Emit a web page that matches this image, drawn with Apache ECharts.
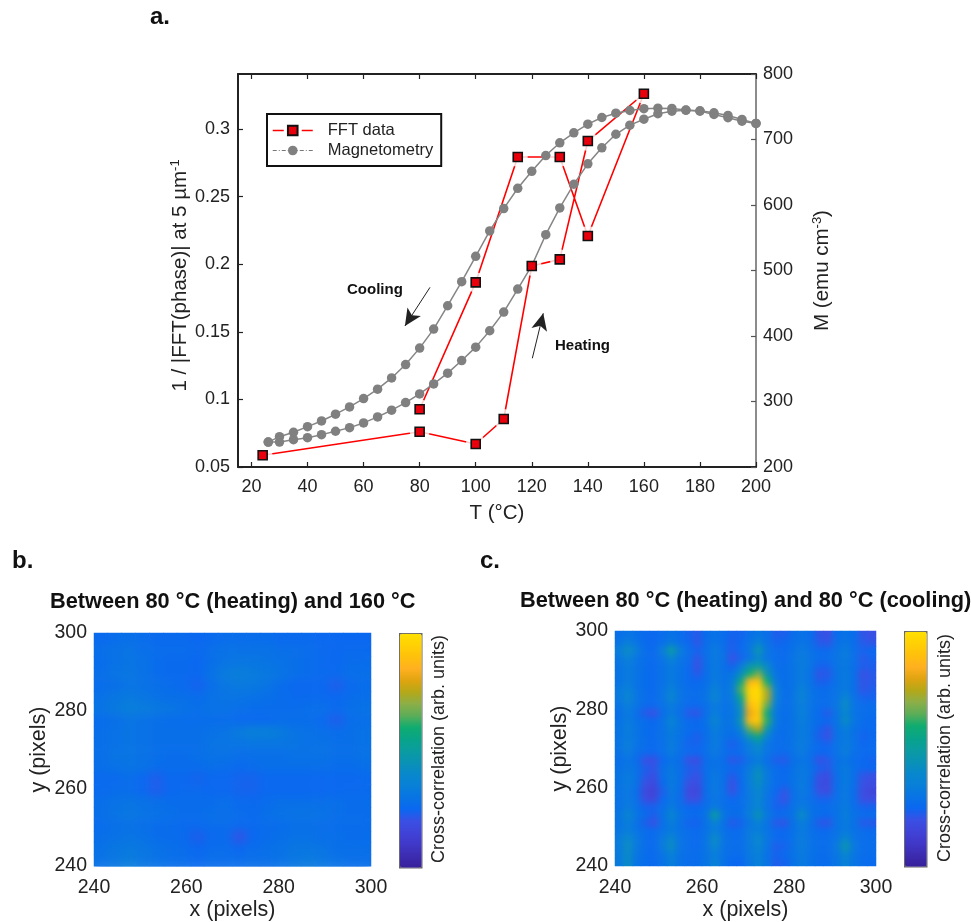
<!DOCTYPE html>
<html><head><meta charset="utf-8">
<style>
html,body{margin:0;padding:0;background:#fff}
#c{position:absolute;left:0;top:0;width:971px;height:922px}
.soft{position:absolute;pointer-events:none}
</style>
<script src="https://cdn.jsdelivr.net/npm/echarts@6/dist/echarts.min.js"></script>
</head><body>
<div id="c"></div>
<div class="soft" style="left:94px;top:633px;width:277px;height:234px;backdrop-filter:blur(4px);-webkit-backdrop-filter:blur(4px)"></div>
<div class="soft" style="left:615px;top:631px;width:261px;height:235px;backdrop-filter:blur(3px);-webkit-backdrop-filter:blur(3px)"></div>
<script>
// ---------- panel a ----------
const fftT = [24,80,100,110,120,130,140,160,140,130,115,100,80];
const fftV = [0.0587,0.0761,0.067,0.0855,0.1987,0.2036,0.2911,0.3261,0.2209,0.2793,0.2793,0.1866,0.0927];
const magT = [26,30,35,40,45,50,55,60,65,70,75,80,85,90,95,100,105,110,115,120,125,130,135,140,145,150,155,160,165,170,175,180,185,190,195,200];
const magHeating = [238,238,241.7,244.8,249.4,254.6,260.1,267.3,276.5,286.7,298.3,311.6,326.9,343.3,362.5,383,408,436.5,471.7,507.3,554.7,595.6,631.7,662.8,687.3,708,721.9,731,739.3,743.3,744.8,743.9,740.8,736.7,730.6,724.5];
const magCooling = [238,246.3,253,261.6,270.3,280.6,291.7,304.4,318.8,336,356.4,381.5,410.5,446.2,482.9,521.6,560.4,594.5,625.5,651.5,675.5,695,710.2,723.4,733.6,740.2,744.3,747,747.8,747.4,745,743.3,738.3,733.3,728,724.5];
const xTicksA = [20,40,60,80,100,120,140,160,180,200];
const yTicksA = [0.05,0.1,0.15,0.2,0.25,0.3];
// ---------- colour bar, bottom to top ----------
const barColors = ['#38209a','#3c2cb0','#4038c8','#4043d8','#3a50e4','#0a68f0','#0874e4','#0880d8','#0888cc','#0a92b4','#0a9ca0','#08a488','#10ac70','#5cad58','#8cae48','#b4a818','#e0a410','#ffb020','#ffc00c','#ffd004','#ffe000'];
// ---------- panel b, rows top to bottom ----------
const gridB = [
[26,27,28,27,26,26,26,25,26,27,27,27,27,26,26,26,25,25,25,25],
[28,29,30,28,27,27,27,26,28,29,29,29,29,28,28,27,26,25,26,26],
[27,29,30,29,27,26,26,25,28,30,31,31,30,29,28,27,26,25,27,27],
[28,30,31,29,27,26,26,25,29,33,34,33,32,30,28,27,26,26,28,28],
[27,28,30,29,28,27,26,24,28,31,32,32,30,27,25,25,25,23,26,27],
[29,31,32,31,29,28,28,27,29,30,30,29,28,27,26,26,26,25,27,28],
[30,32,34,33,32,31,29,28,29,29,28,27,27,27,27,28,28,26,28,29],
[27,28,30,29,28,27,27,27,27,27,26,26,26,27,27,27,26,23,27,28],
[28,29,30,29,28,28,28,28,29,30,33,35,35,33,30,29,28,27,28,29],
[28,29,30,29,28,28,28,28,30,30,30,31,31,31,30,29,29,28,28,29],
[28,30,30,29,28,27,27,28,29,29,28,28,28,28,29,29,29,28,28,29],
[28,29,30,29,27,27,27,27,28,27,26,27,28,28,28,28,28,27,27,28],
[26,26,27,25,23,25,25,24,25,25,24,24,25,25,25,25,25,25,25,26],
[26,27,27,25,23,25,26,26,25,25,24,24,25,25,25,25,25,25,26,26],
[28,29,30,29,28,27,27,27,27,28,26,26,27,28,28,28,28,28,27,27],
[28,30,31,30,29,28,27,27,28,28,27,26,28,29,30,30,29,28,27,27],
[27,28,29,28,27,27,26,26,27,27,26,26,27,27,28,28,28,27,27,27],
[28,29,30,29,27,27,26,23,26,26,21,25,27,28,29,29,28,28,27,27],
[29,31,32,31,29,28,27,25,27,27,25,27,28,29,31,31,30,28,28,28],
[29,31,33,31,29,28,27,26,27,27,27,28,28,29,31,32,31,29,28,28]];
// ---------- panel c, rows top to bottom ----------
const gridC = [
[28,30,28,26,25,27,29,27,24,22,27,29,27,24,24,28,31,28,23,23,27,29,27,21,20,27,29,27,21,20],
[30,34,30,26,25,28,32,28,25,21,27,30,27,23,25,30,36,29,24,25,28,30,28,22,21,28,31,27,22,21],
[34,42,34,27,26,34,50,34,27,24,28,33,28,23,26,31,47,31,27,26,29,32,29,26,26,29,33,28,24,25],
[31,36,30,27,26,30,38,30,27,21,28,32,29,20,24,30,39,30,27,26,30,33,30,27,27,30,33,28,22,24],
[30,33,30,27,26,29,33,29,26,20,28,32,28,24,33,46,50,40,28,27,30,33,30,24,24,30,32,28,23,23],
[30,33,30,27,26,29,33,29,26,22,28,33,29,30,42,60,68,46,30,27,30,33,29,21,22,29,33,28,20,22],
[30,33,30,27,26,29,33,29,26,25,28,33,29,33,56,86,90,60,32,27,30,33,29,23,24,29,33,28,21,22],
[32,36,30,27,26,30,36,30,27,27,29,36,30,34,64,96,98,72,36,27,30,36,30,27,27,30,33,28,21,23],
[32,38,31,27,26,30,39,30,27,27,30,38,30,33,55,94,98,74,36,27,30,37,30,27,27,30,38,29,24,24],
[30,34,30,26,26,29,33,29,26,26,28,33,29,31,46,88,95,66,33,27,30,34,30,27,27,31,42,30,27,27],
[28,33,28,22,20,27,33,28,22,21,28,34,29,30,42,82,92,58,31,27,30,35,30,26,22,30,39,30,27,27],
[29,33,29,27,25,29,38,30,26,25,29,39,30,31,46,88,93,62,32,27,30,34,30,27,25,30,42,31,27,26],
[30,34,30,27,26,29,34,30,27,26,28,34,30,29,38,66,76,48,30,27,30,33,30,24,21,29,34,29,26,26],
[30,33,30,27,26,29,33,29,25,23,28,33,29,27,31,46,56,36,28,27,30,33,30,23,20,29,33,29,24,26],
[30,34,30,27,26,28,33,29,24,24,28,33,28,23,27,34,42,31,27,27,30,33,29,26,24,29,33,29,25,26],
[29,33,28,26,25,28,33,28,26,25,28,32,28,26,27,33,38,30,27,26,29,33,28,25,25,29,34,28,26,26],
[28,30,27,20,19,25,29,27,20,19,27,29,27,21,23,29,33,28,23,22,28,30,28,20,22,28,30,27,25,24],
[29,31,29,23,21,28,32,28,23,22,28,30,28,26,27,33,41,31,27,25,29,32,29,24,22,29,33,28,25,25],
[30,33,29,22,19,28,33,28,22,20,28,32,28,22,27,34,44,33,27,26,29,32,29,20,19,28,33,28,21,20],
[30,33,29,20,17,26,33,28,20,19,28,32,28,20,26,34,42,32,27,26,29,33,28,19,18,28,33,28,20,19],
[29,32,27,17,14,23,32,27,17,16,27,32,28,20,26,33,39,31,25,21,28,32,28,20,18,28,32,27,18,16],
[29,32,28,19,16,25,31,27,19,19,27,31,28,25,27,32,39,30,24,20,28,31,28,24,24,28,32,27,19,19],
[29,33,29,24,24,28,33,28,25,25,28,32,28,27,27,33,38,30,24,24,29,33,29,27,27,29,33,28,24,24],
[31,39,31,27,23,29,39,30,27,26,30,51,31,27,28,34,45,32,27,27,30,42,30,27,26,29,34,29,27,27],
[30,34,29,23,20,28,34,29,24,24,29,36,29,22,24,31,36,30,22,21,29,34,29,22,21,29,33,29,22,22],
[31,34,30,27,26,29,33,29,27,26,29,34,29,26,27,33,34,30,26,25,29,33,29,26,26,29,33,29,27,26],
[33,40,32,27,26,32,39,30,27,26,30,42,30,27,27,33,40,31,26,25,29,33,29,27,27,30,39,30,27,27],
[33,42,32,27,26,33,42,30,27,26,30,40,29,27,27,32,38,30,23,24,29,33,29,27,27,32,47,32,27,27],
[33,41,31,27,26,30,36,29,27,27,30,34,29,27,27,32,36,29,24,26,29,33,29,27,27,31,39,31,27,27],
[33,41,30,27,26,29,34,29,27,27,30,36,29,25,25,31,35,30,23,24,29,32,29,27,27,30,36,30,27,26]];

const FONT = '"Liberation Sans", Arial, sans-serif';
const INK = '#222';
const zip = (a,b) => a.map((v,i) => [v,b[i]]);
const cells = g => { const out=[]; const n=g.length;
  g.forEach((row,i)=>row.forEach((v,j)=>out.push([j,n-1-i,v]))); return out; };
const cats = n => Array.from({length:n},(_,i)=>String(i));
const tickLabel = {fontFamily:FONT,fontSize:18,color:INK};
const nameStyle = {fontFamily:FONT,fontSize:20.5,color:INK};

function heatAxes(gridIndex,g){
  const hName = {fontFamily:FONT,fontSize:21.5,color:INK};
  return {
    cx:{type:'category',gridIndex,data:cats(g[0].length),show:false},
    cy:{type:'category',gridIndex,data:cats(g.length),show:false},
    vx:{type:'value',gridIndex,min:240,max:300,interval:20,position:'bottom',
        axisLine:{show:false},axisTick:{show:false},splitLine:{show:false},
        axisLabel:Object.assign({margin:12},tickLabel,{fontSize:19.5}),
        name:'x (pixels)',nameLocation:'middle',nameGap:31,nameTextStyle:hName},
    vy:{type:'value',gridIndex,min:240,max:300,interval:20,position:'left',
        axisLine:{show:false},axisTick:{show:false},splitLine:{show:false},
        axisLabel:Object.assign({margin:7},tickLabel,{fontSize:19.5}),
        name:'y (pixels)',nameLocation:'middle',nameGap:44,nameTextStyle:hName}
  };
}
const hb = heatAxes(1,gridB), hc = heatAxes(2,gridC);

const axisDark = {show:true,lineStyle:{color:'#222',width:2}};
const supRich = {s:{fontFamily:FONT,fontSize:13,color:INK,padding:[0,0,10,0]}};
const option = {
  animation:false,
  backgroundColor:'#fff',
  textStyle:{fontFamily:FONT},
  grid:[
    {left:238,top:74,width:518,height:393},
    {left:94,top:633,width:277,height:234},
    {left:615,top:631,width:261,height:235}
  ],
  xAxis:[
    {type:'value',gridIndex:0,min:15.2,max:200,position:'bottom',
     axisLine:axisDark,splitLine:{show:false},
     axisTick:{inside:true,length:5,customValues:xTicksA,lineStyle:{color:'#222',width:1.2}},
     axisLabel:Object.assign({margin:11,customValues:xTicksA},tickLabel),
     name:'T (°C)',nameLocation:'middle',nameGap:36,nameTextStyle:nameStyle},
    {type:'value',gridIndex:0,min:15.2,max:200,position:'top',
     axisLine:axisDark,splitLine:{show:false},
     axisTick:{inside:true,length:5,customValues:xTicksA,lineStyle:{color:'#222',width:1.2}},
     axisLabel:{show:false}},
    hb.cx,hb.vx,hc.cx,hc.vx
  ],
  yAxis:[
    {type:'value',gridIndex:0,min:0.05,max:0.3407,position:'left',
     axisLine:axisDark,splitLine:{show:false},
     axisTick:{inside:true,length:5,customValues:yTicksA,lineStyle:{color:'#222',width:1.2}},
     axisLabel:Object.assign({margin:8,customValues:yTicksA},tickLabel),
     name:'1 / |FFT(phase)| at 5 µm{s|-1}',nameLocation:'middle',nameGap:46,nameMoveOverlap:false,
     nameTextStyle:Object.assign({},nameStyle,{rich:supRich,padding:[0,10,0,0]})},
    {type:'value',gridIndex:0,min:200,max:800,interval:100,position:'right',
     axisLine:{show:true,lineStyle:{color:'#666',width:1.5}},splitLine:{show:false},
     axisTick:{inside:true,length:5,lineStyle:{color:'#555',width:1.2}},
     axisLabel:Object.assign({margin:7},tickLabel),
     name:'M (emu cm{s|-3})',nameLocation:'middle',nameGap:55,nameRotate:90,nameMoveOverlap:false,
     nameTextStyle:Object.assign({},nameStyle,{rich:supRich})},
    hb.cy,hb.vy,hc.cy,hc.vy
  ],
  legend:{
    left:267,top:114,width:174,orient:'vertical',
    padding:[8,8,7,5],itemGap:3,itemWidth:40,itemHeight:12,
    borderColor:'#111',borderWidth:2,backgroundColor:'#fff',
    selectedMode:false,
    textStyle:{fontFamily:FONT,fontSize:16.5,color:INK,padding:[0,0,0,10]},
    data:[
      {name:'FFT data',lineStyle:{color:'#f00',width:1.5,opacity:1,type:[11,18,11]}},
      {name:'Magnetometry',lineStyle:{color:'#777',width:1,type:[4,2,1,2]}}
    ]
  },
  visualMap:[
    {type:'continuous',seriesIndex:5,min:0,max:100,show:true,calculable:false,realtime:false,
     left:399,top:633,itemWidth:22,itemHeight:234,padding:0,text:null,showLabel:false,
     borderColor:'#666',borderWidth:1.5,inRange:{color:barColors},textStyle:{fontSize:0}},
    {type:'continuous',seriesIndex:6,min:0,max:100,show:true,calculable:false,realtime:false,
     left:904,top:631,itemWidth:22,itemHeight:235,padding:0,text:null,showLabel:false,
     borderColor:'#666',borderWidth:1.5,inRange:{color:barColors},textStyle:{fontSize:0}}
  ],
  title:[
    {text:'Between 80 °C (heating) and 160 °C',left:50,top:591,padding:0,
     textStyle:{fontFamily:FONT,fontSize:21.75,fontWeight:'bold',color:'#111'}},
    {text:'Between 80 °C (heating) and 80 °C (cooling)',left:520,top:590,padding:0,
     textStyle:{fontFamily:FONT,fontSize:21.75,fontWeight:'bold',color:'#111'}}
  ],
  graphic:[
    {type:'text',left:150,top:5,style:{text:'a.',fontFamily:FONT,fontSize:24,fontWeight:'bold',fill:'#111'}},
    {type:'text',left:12,top:549,style:{text:'b.',fontFamily:FONT,fontSize:24,fontWeight:'bold',fill:'#111'}},
    {type:'text',left:480,top:549,style:{text:'c.',fontFamily:FONT,fontSize:24,fontWeight:'bold',fill:'#111'}},
    {type:'text',left:347,top:282,style:{text:'Cooling',fontFamily:FONT,fontSize:15,fontWeight:'bold',fill:'#111'}},
    {type:'text',left:555,top:338,style:{text:'Heating',fontFamily:FONT,fontSize:15,fontWeight:'bold',fill:'#111'}},
    {type:'text',x:439,y:749,rotation:Math.PI/2,style:{text:'Cross-correlation (arb. units)',fontFamily:FONT,fontSize:18,fill:INK,align:'center',verticalAlign:'middle'}},
    {type:'text',x:945,y:748,rotation:Math.PI/2,style:{text:'Cross-correlation (arb. units)',fontFamily:FONT,fontSize:18,fill:INK,align:'center',verticalAlign:'middle'}}
  ],
  series:[
    {name:'FFT path',type:'line',xAxisIndex:0,yAxisIndex:0,z:1,silent:true,showSymbol:false,symbol:'none',
     data:zip(fftT,fftV),lineStyle:{color:'#f00',width:1.6},
     markLine:{silent:true,symbol:['none','arrow'],symbolSize:[12,17],precision:4,label:{show:false},
       lineStyle:{color:'#222',width:1,type:'solid'},
       data:[
         [{coord:[83.7,0.1829]},{coord:[74.75,0.1543]}],
         [{coord:[120.2,0.1304]},{coord:[124.1,0.1637]}]
       ]}},
    {name:'FFT gap',type:'scatter',xAxisIndex:0,yAxisIndex:0,z:2,silent:true,symbol:'circle',symbolSize:20,
     data:zip(fftT,fftV),itemStyle:{color:'#fff'}},
    {name:'Magnetometry',type:'line',xAxisIndex:0,yAxisIndex:1,z:3,symbol:'circle',symbolSize:9.5,showAllSymbol:true,
     data:zip(magT,magHeating),lineStyle:{color:'#858585',width:1.5},itemStyle:{color:'#808080'}},
    {name:'Magnetometry',type:'line',xAxisIndex:0,yAxisIndex:1,z:3,symbol:'circle',symbolSize:9.5,showAllSymbol:true,
     data:zip(magT,magCooling),lineStyle:{color:'#858585',width:1.5},itemStyle:{color:'#808080'}},
    {name:'FFT data',type:'line',xAxisIndex:0,yAxisIndex:0,z:4,symbol:'rect',symbolSize:9,showAllSymbol:true,
     data:zip(fftT,fftV),lineStyle:{opacity:0,width:0,color:'#f00'},
     itemStyle:{color:'#e8000c',borderColor:'#111',borderWidth:1.6,opacity:1}},
    {name:'b',type:'heatmap',xAxisIndex:2,yAxisIndex:2,data:cells(gridB),progressive:0,itemStyle:{borderWidth:0}},
    {name:'c',type:'heatmap',xAxisIndex:4,yAxisIndex:4,data:cells(gridC),progressive:0,itemStyle:{borderWidth:0}}
  ]
};
const chart = echarts.init(document.getElementById('c'),null,{renderer:'canvas',width:971,height:922});
chart.setOption(option);
</script>
</body></html>
